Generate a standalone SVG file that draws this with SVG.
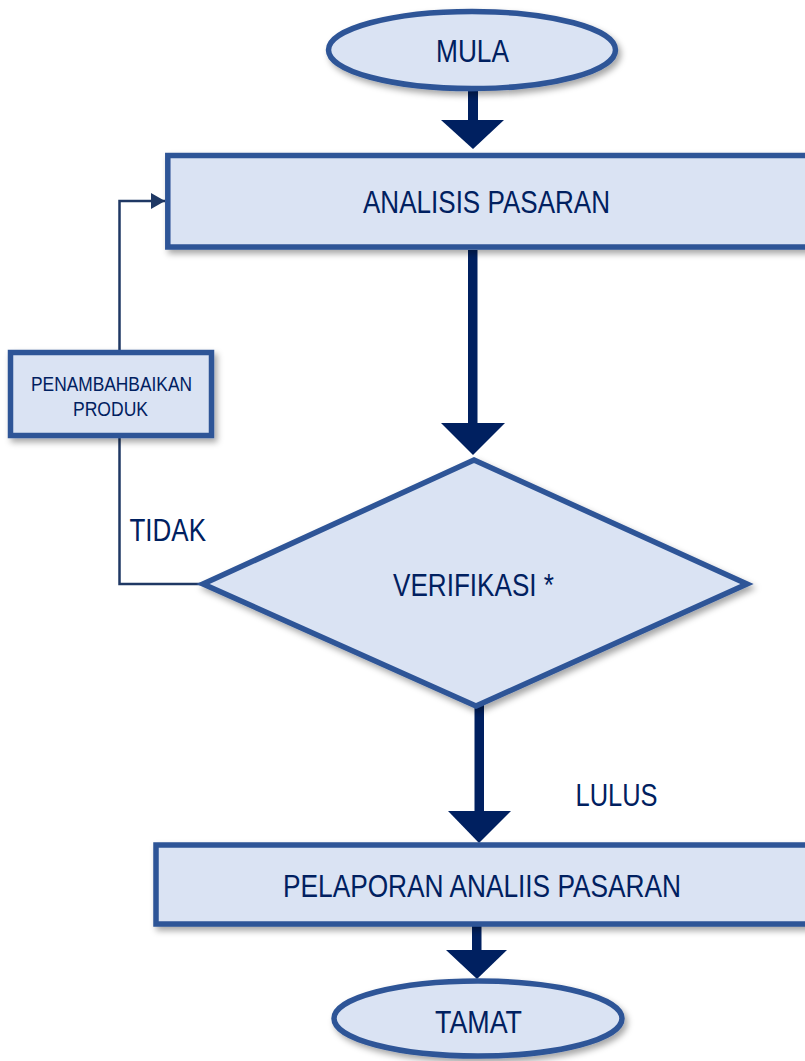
<svg xmlns="http://www.w3.org/2000/svg" width="805" height="1061" viewBox="0 0 805 1061">
  <defs>
    <filter id="sh" x="-10%" y="-10%" width="130%" height="140%">
      <feDropShadow dx="3" dy="4" stdDeviation="3" flood-color="#000" flood-opacity="0.35"/>
    </filter>
    <marker id="ah" markerWidth="14" markerHeight="16" refX="14" refY="8" orient="auto" markerUnits="userSpaceOnUse">
      <path d="M0,0 L14,8 L0,16 Z" fill="#1F3864"/>
    </marker>
  </defs>
  <style>
    .shape { fill: #DAE3F3; stroke: #2F5597; stroke-width: 5.5; filter: url(#sh); }
    .t { font-family: "Liberation Sans Narrow", "Liberation Sans", Arial, sans-serif; fill: #002060; font-size: 31px; }
    .ts { font-family: "Liberation Sans Narrow", "Liberation Sans", Arial, sans-serif; fill: #002060; font-size: 21px; }
    .big { fill: #002060; }
    .thin { fill: none; stroke: #1F3864; stroke-width: 2.5; }
  </style>
  <rect width="805" height="1061" fill="#FFFFFF"/>

  <g id="connectors">
    <!-- MULA -> ANALISIS -->
    <rect class="big" x="468" y="88" width="10" height="34"/>
    <polygon class="big" points="441,120 504,120 473,149"/>
    <!-- ANALISIS -> VERIFIKASI -->
    <rect class="big" x="468" y="250" width="9.5" height="175"/>
    <polygon class="big" points="441,423 505,423 473,455"/>
    <!-- VERIFIKASI -> PELAPORAN -->
    <rect class="big" x="474.5" y="704" width="9.5" height="110"/>
    <polygon class="big" points="448,811 511,811 479,843"/>
    <!-- PELAPORAN -> TAMAT -->
    <rect class="big" x="472" y="924" width="9.5" height="28"/>
    <polygon class="big" points="446,950 507,950 477,979"/>
    <!-- VERIFIKASI (TIDAK) -> PENAMBAHBAIKAN -->
    <polyline class="thin" points="203,584 119.5,584 119.5,438"/>
    <!-- PENAMBAHBAIKAN -> ANALISIS -->
    <polyline class="thin" points="119.5,350 119.5,201 165,201" marker-end="url(#ah)"/>
    <text class="t" x="129.5" y="540.5" textLength="76.5" lengthAdjust="spacingAndGlyphs">TIDAK</text>
    <text class="t" x="575.5" y="806" textLength="82" lengthAdjust="spacingAndGlyphs">LULUS</text>
  </g>

  <g id="mula">
    <ellipse class="shape" cx="472" cy="50" rx="143.5" ry="38.5"/>
    <text class="t" x="436" y="62" font-size="32" textLength="73" lengthAdjust="spacingAndGlyphs">MULA</text>
  </g>

  <g id="analisis">
    <rect class="shape" x="167.8" y="155.5" width="660" height="91.5"/>
    <text class="t" x="363" y="212.5" textLength="247" lengthAdjust="spacingAndGlyphs">ANALISIS PASARAN</text>
  </g>

  <g id="penambahbaikan">
    <rect class="shape" x="10.5" y="352.5" width="201" height="83"/>
    <text class="ts" x="31" y="390.5" textLength="161" lengthAdjust="spacingAndGlyphs">PENAMBAHBAIKAN</text>
    <text class="ts" x="73" y="416" textLength="75" lengthAdjust="spacingAndGlyphs">PRODUK</text>
  </g>

  <g id="verifikasi">
    <polygon class="shape" points="474,460 747,584 476,706 203,584"/>
    <text class="t" x="393" y="596" textLength="161" lengthAdjust="spacingAndGlyphs">VERIFIKASI *</text>
  </g>

  <g id="pelaporan">
    <rect class="shape" x="156" y="845" width="680" height="79"/>
    <text class="t" x="283" y="896.5" textLength="398" lengthAdjust="spacingAndGlyphs">PELAPORAN ANALIIS PASARAN</text>
  </g>

  <g id="tamat">
    <ellipse class="shape" cx="478" cy="1018.5" rx="144" ry="37.5"/>
    <text class="t" x="435" y="1033" textLength="87" lengthAdjust="spacingAndGlyphs">TAMAT</text>
  </g>
</svg>
